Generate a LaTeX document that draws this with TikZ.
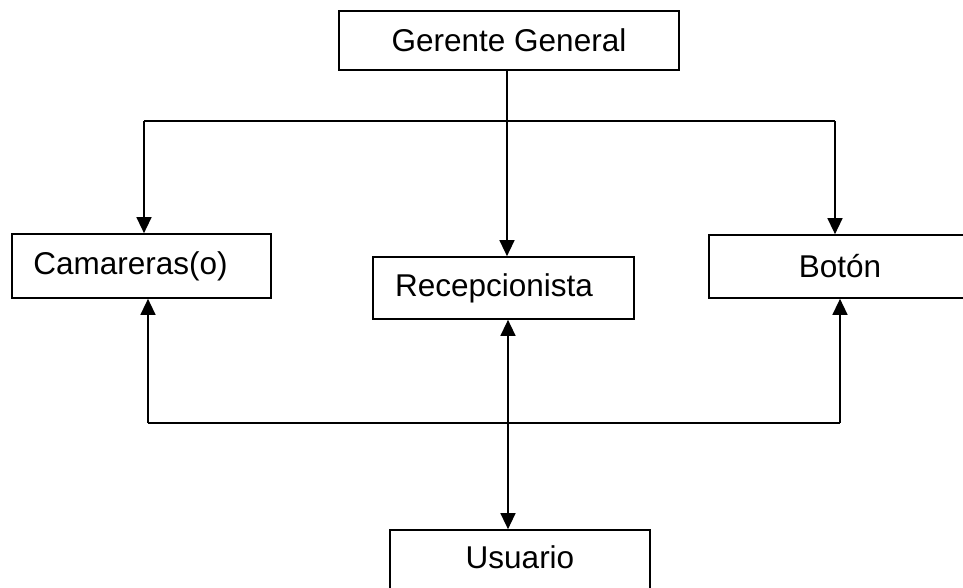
\documentclass[tikz,border=0pt]{standalone}
\usepackage{fontspec}
\setmainfont{Liberation Sans}
\usetikzlibrary{arrows.meta}
\begin{document}
\begin{tikzpicture}[x=1pt,y=1pt,
  lbl/.style={font=\fontsize{31.5}{36}\selectfont,inner sep=0pt},
  box/.style={draw=black,line width=1.7pt,rectangle,inner sep=0pt,lbl},
  link/.style={line width=1.4pt,draw=black},
  tip/.style={Triangle[length=16pt,width=15pt]},
  arr/.style={link,-{Triangle[length=16pt,width=15pt]}}]
\useasboundingbox (0,0) rectangle (963,-588);
\fill[white] (0,0) rectangle (963,-588);
\node[box,minimum width=340pt,minimum height=59pt] (ger) at (509,-40.5) {Gerente General};
\node[box,minimum width=259pt,minimum height=64pt] (cam) at (141.5,-266) {};
\node[lbl] (camt) at (130.5,-266) {Camareras(o)};
\node[box,minimum width=261pt,minimum height=62pt] (rec) at (503.5,-288) {};
\node[lbl] (rect) at (494,-288) {Recepcionista};
\node[box,minimum width=262pt,minimum height=63pt] (bot) at (840,-266.5) {Botón};
\node[box,minimum width=260pt,minimum height=70pt] (usu) at (520,-565) {};
\node[lbl] (usut) at (520,-557) {Usuario};
% top distribution
\coordinate (tl) at (144,-121);
\coordinate (tr) at (835,-121);
\coordinate (gx) at (507,0);
\draw[link] (tl) -- (tr);
\draw[arr] (ger.south -| gx) -- (rec.north -| gx);
\draw[arr] (tl) -- (cam.north -| tl);
\draw[arr] (tr) -- (bot.north -| tr);
% bottom collection
\coordinate (bl) at (148,-423);
\coordinate (br) at (840,-423);
\coordinate (ux) at (508,0);
\draw[link] (bl) -- (br);
\draw[arr] (bl) -- (cam.south -| bl);
\draw[arr] (br) -- (bot.south -| br);
\draw[link,{Triangle[length=16pt,width=15pt]}-{Triangle[length=16pt,width=15pt]}] (rec.south -| ux) -- (usu.north -| ux);
\end{tikzpicture}
\end{document}
